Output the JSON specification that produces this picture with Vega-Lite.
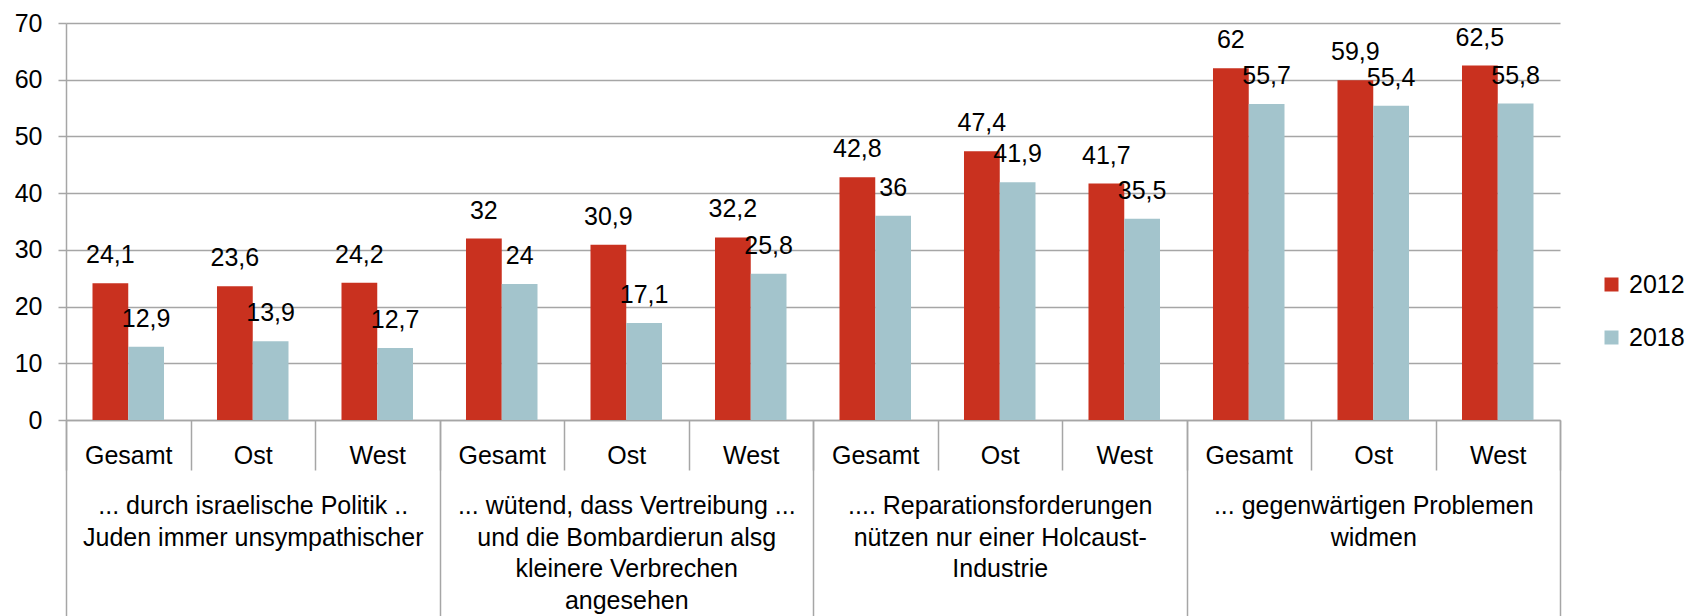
{
  "$schema": "https://vega.github.io/schema/vega-lite/v6.json",
  "width": 1494,
  "height": 397,
  "autosize": {"type": "none"},
  "padding": {"left": 66, "top": 23, "right": 133, "bottom": 196},
  "background": "white",
  "config": {
    "locale": {"number": {"decimal": ",", "thousands": ".", "grouping": [3], "currency": ["", " €"]}},
    "view": {"stroke": null},
    "font": "Liberation Sans"
  },
  "data": {
    "values": [
      {"item": "1 Gesamt", "group": "... durch  israelische Politik ..|Juden immer unsympathischer", "year": "2012", "value": 24.1},
      {"item": "1 Gesamt", "group": "... durch  israelische Politik ..|Juden immer unsympathischer", "year": "2018", "value": 12.9},
      {"item": "1 Ost", "group": "... durch  israelische Politik ..|Juden immer unsympathischer", "year": "2012", "value": 23.6},
      {"item": "1 Ost", "group": "... durch  israelische Politik ..|Juden immer unsympathischer", "year": "2018", "value": 13.9},
      {"item": "1 West", "group": "... durch  israelische Politik ..|Juden immer unsympathischer", "year": "2012", "value": 24.2},
      {"item": "1 West", "group": "... durch  israelische Politik ..|Juden immer unsympathischer", "year": "2018", "value": 12.7},
      {"item": "2 Gesamt", "group": "... wütend, dass  Vertreibung ...|und die Bombardierun alsg|kleinere Verbrechen|angesehen", "year": "2012", "value": 32},
      {"item": "2 Gesamt", "group": "... wütend, dass  Vertreibung ...|und die Bombardierun alsg|kleinere Verbrechen|angesehen", "year": "2018", "value": 24},
      {"item": "2 Ost", "group": "... wütend, dass  Vertreibung ...|und die Bombardierun alsg|kleinere Verbrechen|angesehen", "year": "2012", "value": 30.9},
      {"item": "2 Ost", "group": "... wütend, dass  Vertreibung ...|und die Bombardierun alsg|kleinere Verbrechen|angesehen", "year": "2018", "value": 17.1},
      {"item": "2 West", "group": "... wütend, dass  Vertreibung ...|und die Bombardierun alsg|kleinere Verbrechen|angesehen", "year": "2012", "value": 32.2},
      {"item": "2 West", "group": "... wütend, dass  Vertreibung ...|und die Bombardierun alsg|kleinere Verbrechen|angesehen", "year": "2018", "value": 25.8},
      {"item": "3 Gesamt", "group": ".... Reparationsforderungen|nützen nur einer Holcaust-|Industrie", "year": "2012", "value": 42.8},
      {"item": "3 Gesamt", "group": ".... Reparationsforderungen|nützen nur einer Holcaust-|Industrie", "year": "2018", "value": 36},
      {"item": "3 Ost", "group": ".... Reparationsforderungen|nützen nur einer Holcaust-|Industrie", "year": "2012", "value": 47.4},
      {"item": "3 Ost", "group": ".... Reparationsforderungen|nützen nur einer Holcaust-|Industrie", "year": "2018", "value": 41.9},
      {"item": "3 West", "group": ".... Reparationsforderungen|nützen nur einer Holcaust-|Industrie", "year": "2012", "value": 41.7},
      {"item": "3 West", "group": ".... Reparationsforderungen|nützen nur einer Holcaust-|Industrie", "year": "2018", "value": 35.5},
      {"item": "4 Gesamt", "group": "... gegenwärtigen Problemen|widmen", "year": "2012", "value": 62},
      {"item": "4 Gesamt", "group": "... gegenwärtigen Problemen|widmen", "year": "2018", "value": 55.7},
      {"item": "4 Ost", "group": "... gegenwärtigen Problemen|widmen", "year": "2012", "value": 59.9},
      {"item": "4 Ost", "group": "... gegenwärtigen Problemen|widmen", "year": "2018", "value": 55.4},
      {"item": "4 West", "group": "... gegenwärtigen Problemen|widmen", "year": "2012", "value": 62.5},
      {"item": "4 West", "group": "... gegenwärtigen Problemen|widmen", "year": "2018", "value": 55.8}
    ]
  },
  "layer": [
    {
      "layer": [
        {
          "mark": {"type": "bar"},
          "encoding": {
            "x": {
              "field": "item", "type": "nominal", "sort": null,
              "scale": {"paddingInner": 0, "paddingOuter": 0},
              "axis": {
                "title": null, "orient": "bottom", "labelExpr": "slice(datum.label, 2)",
                "tickBand": "extent", "tickSize": 50, "tickColor": "#a6a6a6", "tickWidth": 1.5,
                "domainColor": "#a6a6a6", "domainWidth": 1.5,
                "labelFontSize": 25, "labelFont": "Liberation Sans", "labelColor": "black",
                "labelPadding": -27, "labelAngle": 0, "labelBaseline": "top", "labelOverlap": false
              }
            },
            "xOffset": {"field": "year", "type": "nominal", "scale": {"paddingInner": 0, "paddingOuter": 0.741}},
            "y": {
              "field": "value", "type": "quantitative",
              "scale": {"domain": [0, 70], "nice": false},
              "axis": {
                "title": null, "values": [0, 10, 20, 30, 40, 50, 60, 70],
                "grid": true, "gridColor": "#a6a6a6", "gridWidth": 1.5,
                "domainColor": "#a6a6a6", "domainWidth": 1.5,
                "tickColor": "#a6a6a6", "tickWidth": 1.5, "tickSize": 8,
                "labelFontSize": 25, "labelFont": "Liberation Sans", "labelColor": "black", "labelPadding": 16
              }
            },
            "color": {
              "field": "year", "type": "nominal",
              "scale": {"domain": ["2012", "2018"], "range": ["#C9311F", "#A3C4CC"]},
              "legend": {
                "orient": "none", "legendX": 1533, "legendY": 249, "title": null,
                "symbolType": "square", "symbolSize": 196, "symbolStrokeWidth": 0,
                "labelFontSize": 25, "labelFont": "Liberation Sans", "labelColor": "black",
                "rowPadding": 27, "labelOffset": 5, "padding": 0
              }
            }
          }
        },
        {
          "mark": {"type": "text", "dy": -20, "baseline": "alphabetic", "fontSize": 25, "font": "Liberation Sans", "color": "black"},
          "encoding": {
            "x": {"field": "item", "type": "nominal", "sort": null},
            "xOffset": {"field": "year", "type": "nominal"},
            "y": {"field": "value", "type": "quantitative"},
            "text": {"field": "value", "type": "quantitative", "format": ".1~f"}
          }
        }
      ]
    },
    {
      "mark": {"type": "rule", "opacity": 0},
      "encoding": {
        "x": {
          "field": "group", "type": "nominal", "sort": null,
          "scale": {"paddingInner": 0, "paddingOuter": 0},
          "axis": {
            "title": null, "orient": "bottom", "labelExpr": "split(datum.label, '|')",
            "tickBand": "extent", "tickSize": 196, "tickColor": "#a6a6a6", "tickWidth": 1.5,
            "domain": false,
            "labelFontSize": 25, "labelFont": "Liberation Sans", "labelColor": "black",
            "labelLineHeight": 31.7, "labelPadding": -122.5, "labelAngle": 0, "labelBaseline": "top",
            "labelLimit": 500, "labelOverlap": false, "labelFlush": false
          }
        }
      }
    }
  ],
  "resolve": {"scale": {"x": "independent"}, "axis": {"x": "independent"}}
}
